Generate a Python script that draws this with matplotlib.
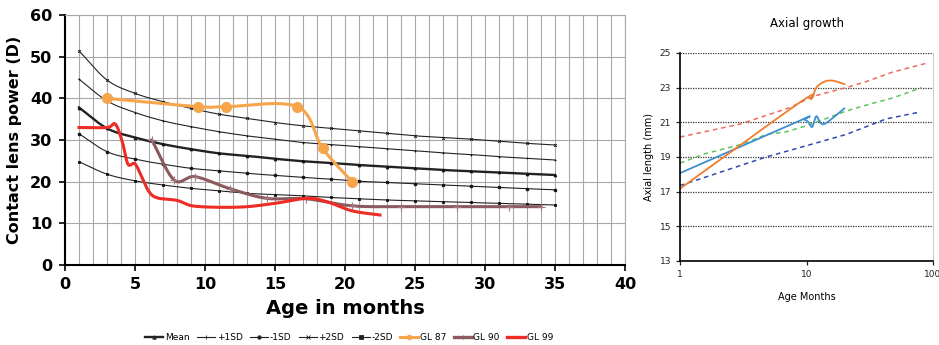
import numpy as np
import matplotlib.pyplot as plt

# normal curves, sampled at odd months
months = np.arange(1, 36, 2)
mean = [37.8, 32.8, 30.6, 29.0, 27.8, 26.8, 26.2, 25.5, 24.9, 24.5, 24.0, 23.6, 23.2, 22.8, 22.5, 22.2, 21.9, 21.6]
plus1 = [44.6, 39.4, 36.6, 34.6, 33.2, 32.0, 31.0, 30.2, 29.4, 28.9, 28.4, 27.9, 27.4, 26.9, 26.5, 26.0, 25.6, 25.2]
minus1 = [31.5, 27.2, 25.4, 24.2, 23.2, 22.6, 22.0, 21.5, 21.0, 20.6, 20.1, 19.8, 19.5, 19.2, 18.9, 18.6, 18.3, 18.05]
plus2 = [51.4, 44.4, 41.2, 39.2, 37.6, 36.2, 35.2, 34.2, 33.4, 32.8, 32.2, 31.6, 31.0, 30.6, 30.2, 29.7, 29.2, 28.8]
minus2 = [24.8, 21.8, 20.2, 19.2, 18.4, 17.8, 17.2, 16.9, 16.6, 16.2, 15.9, 15.6, 15.4, 15.2, 15.0, 14.8, 14.6, 14.4]

# patients
gl87_x = [3, 9.5, 11.5, 16.6, 18.4, 20.5]
gl87_y = [40, 38, 38, 38, 28, 20]
gl90_x = [6.2, 7.8, 9.3, 11.8, 14.4, 17.2, 20.5, 24, 28, 31.7, 34]
gl90_y = [30, 20.4, 21.2, 18.3, 16.0, 15.9, 14.2, 14.0, 14.0, 14.0, 14.0]
gl99_x = [1, 3, 3.6, 4.1, 4.5, 5.0, 5.5, 6.0, 6.6, 8.0, 9.3, 12.5, 15, 17.3, 18.7, 20.5, 22.5]
gl99_y = [33, 33, 33.8, 29.5, 24.2, 24.3, 21.0, 17.6, 16.1, 15.5, 14.1, 13.9, 14.8, 16.0, 15.2, 13.0, 12.0]

# axial length chart
ref_x = [1, 3, 7.4, 11.3, 20.6, 29.7, 48, 88]
ref_hi = [20.15, 20.9, 21.85, 22.5, 23.0, 23.35, 23.9, 24.4]
mid_x = [1, 1.6, 3.15, 4.8, 6.9, 10, 20.6, 33.4, 48, 81]
mid_y = [18.65, 19.2, 19.75, 20.3, 20.45, 20.8, 21.65, 22.1, 22.4, 23.0]
lo_x = [1, 4.8, 10, 20.6, 42.8, 80]
lo_y = [17.35, 19.0, 19.65, 20.3, 21.2, 21.6]
eye1_x = [1, 8.85, 9.6, 10.4, 11.1, 11.95, 12.9, 14.3, 19.9]
eye1_y = [18.07, 21.1, 21.15, 21.0, 20.73, 21.35, 20.96, 20.96, 21.8]
eye2_x = [1, 9.07, 10.9, 11.95, 13.9, 16.2, 20]
eye2_y = [17.17, 22.2, 22.35, 23.0, 23.35, 23.4, 23.2]


def smooth(xs, ys, n=30):
    pts = np.column_stack([xs, ys]).astype(float)
    p = np.vstack([2 * pts[0] - pts[1], pts, 2 * pts[-1] - pts[-2]])
    t = np.linspace(0, 1, n)[:, None]
    out = []
    for i in range(1, len(p) - 2):
        p0, p1, p2, p3 = p[i - 1], p[i], p[i + 1], p[i + 2]
        c1 = p1 + (p2 - p0) / 6
        c2 = p2 - (p3 - p1) / 6
        out.append((1 - t) ** 3 * p1 + 3 * (1 - t) ** 2 * t * c1
                   + 3 * (1 - t) * t ** 2 * c2 + t ** 3 * p2)
    out = np.vstack(out)
    return out[:, 0], out[:, 1]


def smooth_log(xs, ys, n=30):
    sx, sy = smooth(np.log10(xs), ys, n)
    return 10 ** sx, sy


fig = plt.figure(figsize=(9.39, 3.45), dpi=100)

ax = fig.add_axes([0.0692, 0.2319, 0.5964, 0.7246])
ax.set_xlim(0, 40)
ax.set_ylim(0, 60)
for m in range(1, 41):
    ax.axvline(m, color='#a8a8a8', lw=0.8, zorder=0)
for v in range(10, 61, 10):
    ax.axhline(v, color='#a8a8a8', lw=0.8, zorder=0)

sd_curves = [
    (mean, 'Mean', 1.7, '^'),
    (plus1, '+1SD', 0.8, '+'),
    (minus1, '-1SD', 0.8, 'o'),
    (plus2, '+2SD', 0.8, 'x'),
    (minus2, '-2SD', 0.8, 's'),
]
handles = []
for vals, name, lw, mk in sd_curves:
    sx, sy = smooth(months, vals)
    ax.plot(sx, sy, color='#222222', lw=lw, zorder=3)
    ax.plot(months, vals, ls='none', marker=mk, ms=2, color='#111111', mew=0.6, zorder=3)
    handles.append(plt.Line2D([], [], color='#222222', lw=lw, marker=mk, ms=2.5, mew=0.6, label=name))

sx, sy = smooth(gl87_x, gl87_y)
ax.plot(sx, sy, color='#f6a54b', lw=2.2, zorder=4)
ax.plot(gl87_x, gl87_y, ls='none', marker='o', ms=7, color='#f6a54b', zorder=4)
handles.append(plt.Line2D([], [], color='#f6a54b', lw=2.2, marker='o', ms=3, label='GL 87'))

sx, sy = smooth(gl90_x, gl90_y)
ax.plot(sx, sy, color='#8a5a5e', lw=2.2, zorder=4)
ax.plot(gl90_x, gl90_y, ls='none', marker='+', ms=6, color='#a07a7e', mew=0.8, zorder=4)
handles.append(plt.Line2D([], [], color='#8a5a5e', lw=2.4, marker='+', ms=3, label='GL 90'))

sx, sy = smooth(gl99_x, gl99_y)
ax.plot(sx, sy, color='#ee2b24', lw=2.2, zorder=5)
handles.append(plt.Line2D([], [], color='#ee2b24', lw=2.4, label='GL 99'))

ax.set_xticks(range(0, 41, 5))
ax.set_yticks(range(0, 61, 10))
ax.tick_params(labelsize=11.5, width=1.2, length=4, pad=5)
for lab in ax.get_xticklabels() + ax.get_yticklabels():
    lab.set_fontweight('bold')
ax.set_xlabel('Age in months', fontsize=14, fontweight='bold', labelpad=5)
ax.set_ylabel('Contact lens power (D)', fontsize=11.5, fontweight='bold', labelpad=6)
for s in ['top', 'right']:
    ax.spines[s].set_color('#a8a8a8')
for s in ['left', 'bottom']:
    ax.spines[s].set_linewidth(1.5)

fig.legend(handles=handles, loc='center', bbox_to_anchor=(0.372, 0.022), ncol=8,
           fontsize=6.5, frameon=False, handlelength=2.0, columnspacing=0.8,
           handletextpad=0.2)

# axial growth panel
ax2 = fig.add_axes([0.7242, 0.2435, 0.2694, 0.603])
ax2.set_xscale('log')
ax2.set_xlim(1, 100)
ax2.set_ylim(13, 25)
for v in range(15, 26, 2):
    ax2.axhline(v, color='#333333', lw=0.9, ls=(0, (1, 1)), zorder=0)

ax2.plot(ref_x, ref_hi, color='#ec6b5e', lw=1.1, ls=(0, (3, 2.5)))
ax2.plot(mid_x, mid_y, color='#5fc45a', lw=1.1, ls=(0, (3, 2.5)))
ax2.plot(lo_x, lo_y, color='#3448b0', lw=1.1, ls=(0, (3, 2.5)))
sx, sy = smooth_log(eye1_x, eye1_y)
ax2.plot(sx, sy, color='#3c8fd0', lw=1.3)
sx, sy = smooth_log(eye2_x, eye2_y)
ax2.plot(sx, sy, color='#f27c2c', lw=1.3)

ax2.set_yticks(range(13, 26, 2))
ax2.set_xticks([1, 10, 100])
ax2.set_xticklabels(['1', '10', '100'])
ax2.minorticks_off()
ax2.tick_params(labelsize=6.5, length=3, width=0.9, colors='#222222')
ax2.set_xlabel('Age Months', fontsize=7, labelpad=9)
ax2.set_ylabel('Axial length (mm)', fontsize=7, labelpad=4)
ax2.set_title('Axial growth', fontsize=8.5, pad=19)
ax2.spines['top'].set_visible(False)
ax2.spines['right'].set_color('#cccccc')
ax2.spines['left'].set_linewidth(1.2)
ax2.spines['bottom'].set_linewidth(1.2)

fig.savefig('out.png', dpi=100)
